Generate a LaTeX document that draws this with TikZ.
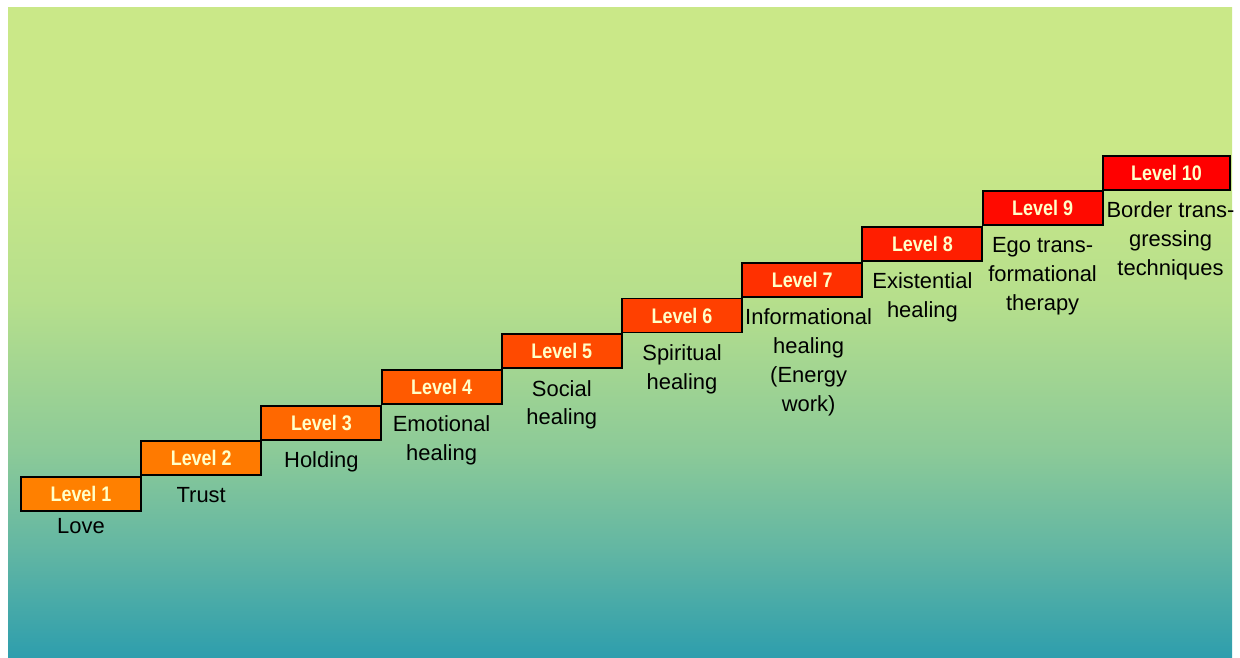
\documentclass[tikz,border=0pt]{standalone}
\usepackage{fontspec}
\setmainfont{Liberation Sans}
\newfontfamily\levelfont{Liberation Sans}[FakeStretch=0.85]
\usepackage{tikz}
\usetikzlibrary{positioning}

\definecolor{bggreen}{RGB}{202,232,136}
\definecolor{bgmid}{RGB}{182,223,140}
\definecolor{bglow}{RGB}{140,202,152}
\definecolor{bgsea}{RGB}{98,182,163}
\definecolor{bgteal}{RGB}{46,158,173}
\definecolor{boxtext}{RGB}{255,255,200}
\definecolor{lvone}{RGB}{255,128,0}
\definecolor{lvtwo}{RGB}{255,122,0}
\definecolor{lvthree}{RGB}{255,104,0}
\definecolor{lvfour}{RGB}{255,90,0}
\definecolor{lvfive}{RGB}{255,74,0}
\definecolor{lvsix}{RGB}{255,64,0}
\definecolor{lvseven}{RGB}{255,48,0}
\definecolor{lveight}{RGB}{255,30,0}
\definecolor{lvnine}{RGB}{255,10,0}
\definecolor{lvten}{RGB}{255,0,0}

\pgfdeclareverticalshading{stairsky}{100bp}{color(0bp)=(bgteal); color(25bp)=(bgteal);
  color(33.2bp)=(bgsea); color(40.9bp)=(bglow); color(52.5bp)=(bgmid);
  color(64.1bp)=(bggreen); color(75bp)=(bggreen); color(100bp)=(bggreen)}

\tikzset{
  levelbox/.style={draw=black, line width=1.4pt, inner sep=0pt, outer sep=0pt,
    minimum width=3cm, minimum height=0.85cm, text=boxtext,
    font=\levelfont\fontsize{15}{17}\selectfont\bfseries},
  levellabel/.style={align=center, inner sep=0pt, outer sep=0pt,
    font=\fontsize{15.6}{20.5}\selectfont}
}

\begin{document}
\begin{tikzpicture}[x=0.025cm, y=-0.025cm]
  \useasboundingbox (0,0) rectangle (1240,657);
  \shade[shading=stairsky] (8,8) rectangle (1232,657);

  % the ten steps
  \node[levelbox, fill=lvone]   (l1)  at (81,494)     {Level 1};
  \node[levelbox, fill=lvtwo]   (l2)  at (201.2,458.3) {Level 2};
  \node[levelbox, fill=lvthree] (l3)  at (321.4,422.6) {Level 3};
  \node[levelbox, fill=lvfour]  (l4)  at (441.6,386.9) {Level 4};
  \node[levelbox, fill=lvfive]  (l5)  at (561.8,351.2) {Level 5};
  \node[levelbox, fill=lvsix]   (l6)  at (682,315.5)   {Level 6};
  \node[levelbox, fill=lvseven] (l7)  at (802.2,279.8) {Level 7};
  \node[levelbox, fill=lveight] (l8)  at (922.4,244.1) {Level 8};
  \node[levelbox, fill=lvnine]  (l9)  at (1042.6,208.4) {Level 9};
  \node[levelbox, fill=lvten, minimum width=3.17cm] (l10) at (1166.5,173) {Level 10};

  % what each step stands for
  \node[levellabel, below=5pt of l1]  (t1)  {Love};
  \node[levellabel, below=8.5pt of l2]  (t2)  {Trust};
  \node[levellabel, below=8.5pt of l3]  (t3)  {Holding};
  \node[levellabel, below=8.5pt of l4]  (t4)  {Emotional\\healing};
  \node[levellabel, below=8.5pt of l5]  (t5)  {Social\\healing};
  \node[levellabel, below=8.5pt of l6]  (t6)  {Spiritual\\healing};
  \node[levellabel, below=8.5pt of l7, xshift=0.16cm]  (t7)  {Informational\\healing\\(Energy\\work)};
  \node[levellabel, below=8.5pt of l8]  (t8)  {Existential\\healing};
  \node[levellabel, below=8.5pt of l9]  (t9)  {Ego trans-\\formational\\therapy};
  \node[levellabel, below=8.5pt of l10, xshift=0.1cm] (t10) {Border trans-\\gressing\\techniques};
\end{tikzpicture}
\end{document}
